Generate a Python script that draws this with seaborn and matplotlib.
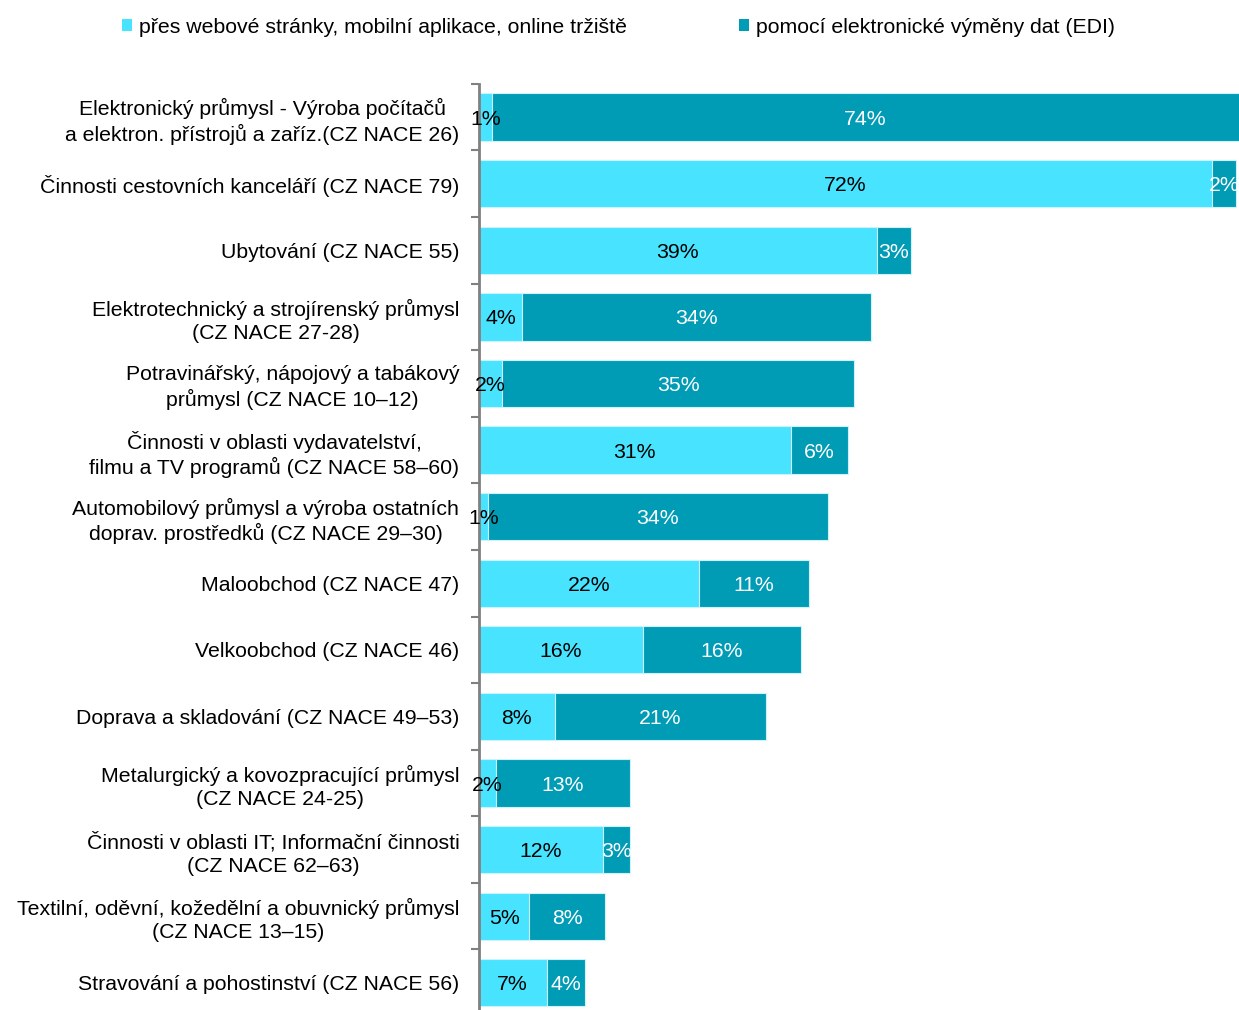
import numpy as np
import pandas as pd
import matplotlib
matplotlib.use("Agg")
import matplotlib.pyplot as plt
from matplotlib.patches import Patch
import seaborn as sns

# ==============================
# DATA (shares in %)
# ==============================
categories = [
    "Elektronický průmysl - Výroba počítačů\na elektron. přístrojů a zaříz.(CZ NACE 26)",
    "Činnosti cestovních kanceláří (CZ NACE 79)",
    "Ubytování (CZ NACE 55)",
    "Elektrotechnický a strojírenský průmysl\n(CZ NACE 27-28)",
    "Potravinářský, nápojový a tabákový\nprůmysl (CZ NACE 10–12)",
    "Činnosti v oblasti vydavatelství,\nfilmu a TV programů (CZ NACE 58–60)",
    "Automobilový průmysl a výroba ostatních\ndoprav. prostředků (CZ NACE 29–30)",
    "Maloobchod (CZ NACE 47)",
    "Velkoobchod (CZ NACE 46)",
    "Doprava a skladování (CZ NACE 49–53)",
    "Metalurgický a kovozpracující průmysl\n(CZ NACE 24-25)",
    "Činnosti v oblasti IT; Informační činnosti\n(CZ NACE 62–63)",
    "Textilní, oděvní, kožedělní a obuvnický průmysl\n(CZ NACE 13–15)",
    "Stravování a pohostinství (CZ NACE 56)",
]
web = [1.3, 72.4, 39.3, 4.3, 2.3, 30.8, 0.9, 21.8, 16.2, 7.5, 1.7, 12.3, 5.0, 6.7]
edi = [74.0, 2.4, 3.4, 34.4, 34.8, 5.7, 33.6, 10.8, 15.6, 20.9, 13.2, 2.6, 7.5, 3.8]

series_names = ["přes webové stránky, mobilní aplikace, online tržiště",
                "pomocí elektronické výměny dat (EDI)"]
col_web = "#47E3FF"
col_edi = "#009BB5"

df = pd.DataFrame({"cat": categories, "web": web, "edi": edi})

# ==============================
# PLOT
# ==============================
sns.set_style("white")
plt.rcParams["font.family"] = ["Liberation Sans", "DejaVu Sans"]
plt.rcParams["text.color"] = "black"
FS = 15.3

fig = plt.figure(figsize=(12.39, 10.10), dpi=100)
ax = fig.add_axes([0.3864, -0.006, 0.6136, 0.923])

sns.barplot(data=df, y="cat", x="web", order=categories, color=col_web,
            saturation=1, width=0.71, edgecolor="#cdf3fa", linewidth=0.8, ax=ax)
sns.barplot(data=df, y="cat", x="edi", order=categories, color=col_edi,
            saturation=1, width=0.71, edgecolor="#cdf3fa", linewidth=0.8,
            left=df["web"].values, ax=ax)

c_web, c_edi = ax.containers[0], ax.containers[1]
t1 = ax.bar_label(c_web, labels=[f"{v:.0f}%" for v in web], label_type="center",
                  color="black", fontsize=FS)
t2 = ax.bar_label(c_edi, labels=[f"{v:.0f}%" for v in edi], label_type="center",
                  color="white", fontsize=FS)
for t in list(t1) + list(t2):
    t.set_verticalalignment("center_baseline")

ax.set_xlim(0, 75.1)
ax.set_ylim(len(categories) - 0.5, -0.5)
ax.set_xlabel("")
ax.set_ylabel("")
ax.set_xticks([])

# category boundary ticks on the left spine
ax.set_yticks(np.arange(len(categories)))
ax.set_yticks(np.arange(len(categories) + 1) - 0.5, minor=True)
ax.tick_params(axis="y", which="major", length=0, pad=14, labelsize=FS,
               labelcolor="black")
ax.tick_params(axis="y", which="minor", length=6, width=1.5, color="#808080",
               direction="out", left=True)
for lbl in ax.get_yticklabels():
    lbl.set_multialignment("center")
    lbl.set_linespacing(1.28)

for s in ["top", "right", "bottom"]:
    ax.spines[s].set_visible(False)
ax.spines["left"].set_color("#808080")
ax.spines["left"].set_linewidth(2)

handles = [Patch(facecolor=col_web, edgecolor="none"),
           Patch(facecolor=col_edi, edgecolor="none")]
fig.legend(handles, series_names, loc="center left", bbox_to_anchor=(0.0985, 0.973),
           ncol=2, frameon=False, fontsize=FS, handlelength=0.45, handleheight=0.45,
           handletextpad=0.33, columnspacing=5.3, borderpad=0, borderaxespad=0)

fig.savefig("out.png", dpi=100)
